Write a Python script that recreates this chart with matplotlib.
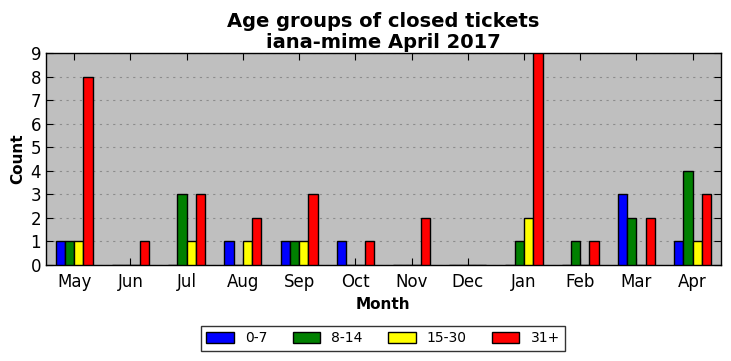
import matplotlib
matplotlib.use("Agg")
import matplotlib.pyplot as plt
import numpy as np

months = ["May", "Jun", "Jul", "Aug", "Sep", "Oct", "Nov", "Dec", "Jan", "Feb", "Mar", "Apr"]
g0_7 = [1, 0, 0, 1, 1, 1, 0, 0, 0, 0, 3, 1]
g8_14 = [1, 0, 3, 0, 1, 0, 0, 0, 1, 1, 2, 4]
g15_30 = [1, 0, 1, 1, 1, 0, 0, 0, 2, 0, 0, 1]
g31 = [8, 1, 3, 2, 3, 1, 2, 0, 9, 1, 2, 3]
labels = ["0-7", "8-14", "15-30", "31+"]
colors = ["blue", "green", "yellow", "red"]

fig = plt.figure(figsize=(7.31, 3.61), dpi=100)
ax = fig.add_axes([0.063, 0.266, 0.923, 0.587])
ax.set_facecolor("#bfbfbf")
x = np.arange(len(months))
w = 0.165
series = [g0_7, g8_14, g15_30, g31]
for k, (vals, lab, c) in enumerate(zip(series, labels, colors)):
    ax.bar(x + (k - 2) * w, vals, width=w, align="edge", color=c,
           edgecolor="black", linewidth=1.0, label=lab, zorder=3)

ax.set_xlim(-0.5, 11.5)
ax.set_ylim(0, 9)
ax.set_yticks(range(10))
ax.set_xticks(x)
ax.set_xticklabels(months)
ax.tick_params(direction="in", top=True, right=True, labelsize=12, length=5, color="black")
ax.tick_params(axis="x", pad=6)
ax.yaxis.grid(True, linestyle=(0, (2, 4)), color="#8c8c8c", linewidth=0.8, zorder=0)
for s in ax.spines.values():
    s.set_linewidth(1.0)
ax.set_xlabel("Month", fontsize=11, fontweight="bold")
ax.set_ylabel("Count", fontsize=11, fontweight="bold")
ax.set_title("Age groups of closed tickets\niana-mime April 2017", fontsize=14,
             fontweight="bold", linespacing=1.1, pad=4)
leg = fig.legend(loc="center", bbox_to_anchor=(0.524, 0.063), ncol=4, fontsize=10,
                 frameon=True, fancybox=False, edgecolor="black", handlelength=2.0,
                 handleheight=0.8, columnspacing=1.8, borderpad=0.4)
leg.get_frame().set_linewidth(1.0)
fig.savefig("out.png", dpi=100)
